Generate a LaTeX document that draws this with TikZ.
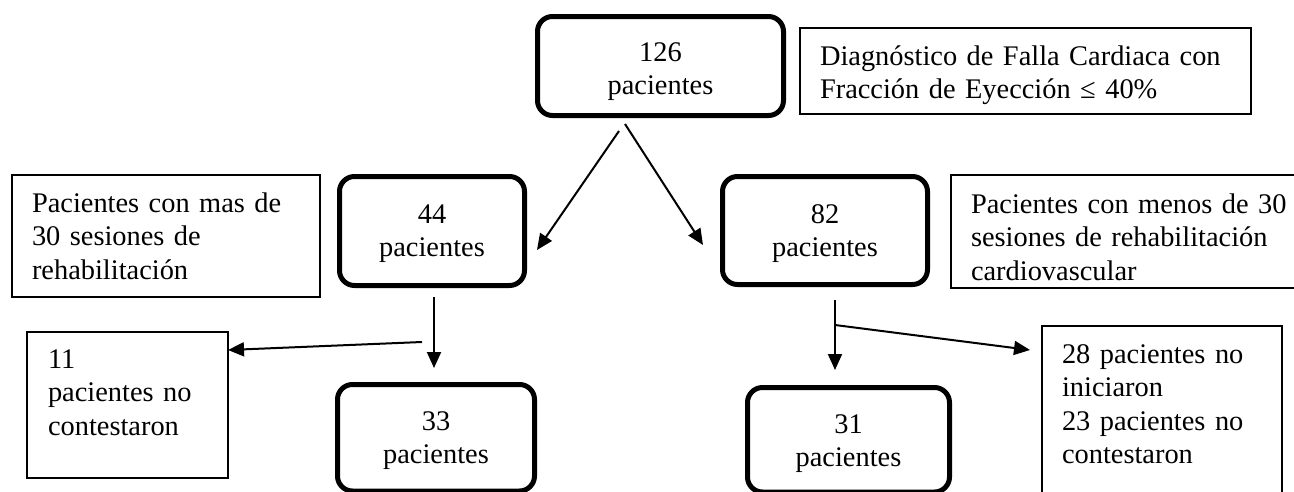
\documentclass[tikz,border=0pt]{standalone}
\usepackage{fontspec}
\setmainfont{Liberation Serif}
\usepackage{tikz}
\usetikzlibrary{calc,arrows.meta}

\begin{document}
\begin{tikzpicture}[
      x=1pt, y=-1pt,
      font={\fontsize{28.4}{33.5}\selectfont},
      grp/.style={draw,line width=5pt,rounded corners=15pt,anchor=north west,
        inner sep=0pt,outer sep=0pt,align=center},
      info/.style={draw,line width=1.2pt,anchor=north west,inner xsep=20pt,
        inner ysep=0pt,outer sep=0pt,align=left},
      flow/.style={draw,line width=2pt,-{Triangle[length=16pt,width=14pt]}}
  ]
  \useasboundingbox (0,0) rectangle (1294,491);
  \clip (0,0) rectangle (1294,491);

  \node[grp, text width=246pt, text height=44.5pt, text depth=54.5pt] (total) at (537.5,16.5) {126\\pacientes};
  \node[info, text width=411pt, text height=37pt, text depth=49pt] (diag) at (800,28)
    {Diagnóstico de Falla Cardiaca con\\Fracción de Eyección ≤ 40\%};

  \node[grp, text width=185pt, text height=46.5pt, text depth=62.5pt] (p44) at (339.5,176.5) {44\\pacientes};
  \node[grp, text width=205pt, text height=46.5pt, text depth=61.5pt] (p82) at (722.5,176.5) {82\\pacientes};
  \node[info, text width=268pt, text height=37pt, text depth=85pt] (mas) at (12,175)
    {Pacientes con mas de\\30 sesiones de\\rehabilitación};
  \node[info, text width=345pt, text height=38pt, text depth=75pt] (menos) at (951,175)
    {Pacientes con menos de 30\\sesiones de rehabilitación\\cardiovascular};

  \node[grp, text width=197pt, text height=45.5pt, text depth=61pt] (p33) at (337.5,384.5) {33\\pacientes};
  \node[grp, text width=202pt, text height=45.5pt, text depth=59pt] (p31) at (747.5,387.5) {31\\pacientes};
  \node[info, inner xsep=21pt, text width=159pt, text height=36pt, text depth=110pt] (p11) at (27,332)
    {11\\pacientes no\\contestaron};
  \node[info, text width=200pt, text height=37pt, text depth=150pt] (p51) at (1042,326)
    {28 pacientes no\\iniciaron\\23 pacientes no\\contestaron};

  \draw[flow] ($(total.south)+(-41.5,15.5)$) -- ($(p44.east)+(12.5,19)$);
  \draw[flow] ($(total.south)+(-35.5,8.5)$) -- ($(p82.west)+(-19.5,14.5)$);

  \draw[flow] ($(p44.south)+(2,11.5)$) -- ($(p33.north)+(-2,-16.5)$);
  \coordinate (j44) at ($(p44.south)+(-10,56.5)$);
  \draw[flow] (j44) -- ($(p11.east)+(0,-55)$);

  \draw[flow] ($(p82.south)+(10,15.5)$) -- ($(p31.north)+(-13.5,-17.5)$);
  \coordinate (j82) at ($(p82.south)+(10,40.5)$);
  \draw[flow] (j82) -- ($(p51.west)+(-12,-69.5)$);

\end{tikzpicture}
\end{document}
